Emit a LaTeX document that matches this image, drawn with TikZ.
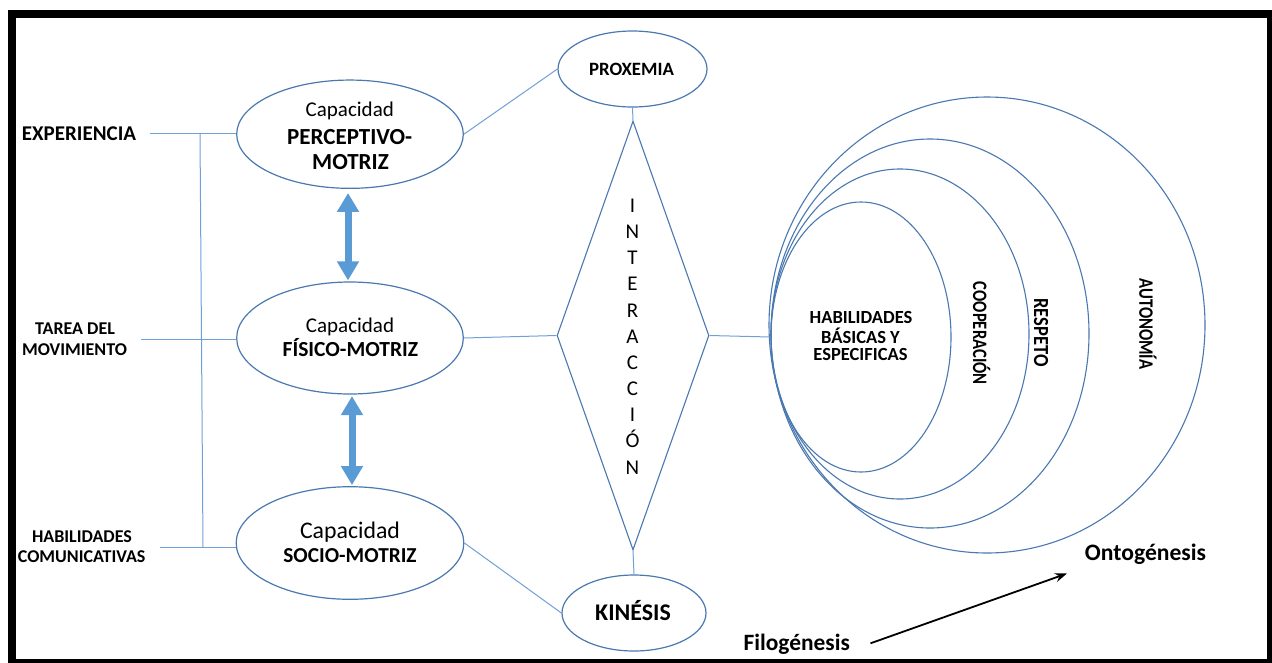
\documentclass[tikz,border=0pt]{standalone}
\usepackage{fontspec}
\setmainfont{Carlito}
\usetikzlibrary{shapes.geometric,arrows.meta}
\definecolor{ellblue}{HTML}{4A78B0}
\definecolor{connblue}{HTML}{6FA0D8}
\definecolor{arrblue}{HTML}{5B9BD5}
\newcommand\fsz[1]{\fontsize{#1}{#1}\selectfont}
\begin{document}
\begin{tikzpicture}[x=1pt,y=-1pt,
  ell/.style={draw=ellblue,line width=1.2pt,ellipse,inner sep=0pt},
  ring/.style={draw=ellblue,line width=1.1pt,ellipse,inner sep=0pt},
  conn/.style={draw=connblue,line width=1pt},
  txt/.style={inner sep=0pt,anchor=base},
  letter/.style={inner sep=0pt,anchor=base,font=\fsz{21}},
  rot/.style={inner sep=0pt,anchor=center,rotate=-90},
  bigarrow/.style={draw=arrblue,line width=7pt,
     {Triangle[width=21pt,length=19pt]}-{Triangle[width=21pt,length=19pt]}}]
\useasboundingbox (0,0) rectangle (1272,662);
\fill[white] (0,0) rectangle (1272,662);
\draw[line width=8pt] (11.5,13.8) rectangle (1271,662.5);

% left labels
\node[txt,font=\fsz{21}\bfseries] (exp) at (79,140) {EXPERIENCIA};
\node[txt,font=\fsz{18}\bfseries] (tar1) at (75,334.3) {TAREA DEL};
\node[txt,font=\fsz{18}\bfseries] (tar2) at (74.5,355) {MOVIMIENTO};
\node[txt,font=\fsz{18}\bfseries] (hab1) at (82,542.7) {HABILIDADES};
\node[txt,font=\fsz{18}\bfseries] (hab2) at (81.7,562.7) {COMUNICATIVAS};

% capacity ellipses
\node[ell,minimum width=226.6pt,minimum height=108.3pt] (e1) at (350,134.2) {};
\node[ell,minimum width=226.6pt,minimum height=112pt] (e2) at (350,338) {};
\node[ell,minimum width=227.6pt,minimum height=112.6pt] (e3) at (350,543) {};
\node[txt,font=\fsz{21}] (e1a) at (349.8,116) {Capacidad};
\node[txt,font=\fsz{23}\bfseries] (e1b) at (349.7,144) {PERCEPTIVO-};
\node[txt,font=\fsz{23}\bfseries] (e1c) at (350.5,169.3) {MOTRIZ};
\node[txt,font=\fsz{21}] (e2a) at (350,332) {Capacidad};
\node[txt,font=\fsz{21.5}\bfseries] (e2b) at (350.4,356) {FÍSICO-MOTRIZ};
\node[txt,font=\fsz{23.8}] (e3a) at (350,538.3) {Capacidad};
\node[txt,font=\fsz{21.3}\bfseries] (e3b) at (350,562.3) {SOCIO-MOTRIZ};

% proxemia / kinesis
\node[ell,minimum width=149pt,minimum height=76pt] (px) at (632.5,69) {};
\node[txt,font=\fsz{18.8}\bfseries] (pxt) at (631.5,75) {PROXEMIA};
\node[ell,minimum width=144pt,minimum height=76pt] (kin) at (634,613) {};
\node[txt,font=\fsz{23.9}\bfseries] (kint) at (633,620) {KINÉSIS};

% diamond
\node[draw=ellblue,line width=1.1pt,diamond,inner sep=0pt,aspect=0.354,
      minimum width=152pt,minimum height=429pt] (dia) at (633,335.5) {};
\foreach \ch [count=\i] in {I,N,T,E,R,A,C,C,I,Ó,N}
  \node[letter] (l\i) at (632.5,{205.7+26.16*(\i-1)+6.8}) {\ch};

% nested ellipses
\node[ring,minimum width=436pt,minimum height=456pt] (c4) at (987,325) {};
\node[ring,minimum width=318pt,minimum height=389pt] (c3) at (930,333.5) {};
\node[ring,minimum width=258pt,minimum height=330pt] (c2) at (900,334) {};
\node[ring,minimum width=180pt,minimum height=270pt] (c1) at (861,337) {};
\node[txt,font=\fsz{18.5}\bfseries] (h1) at (861,323.3) {HABILIDADES};
\node[txt,font=\fsz{18.5}\bfseries] (h2) at (860.5,343.3) {BÁSICAS Y};
\node[txt,font=\fsz{18.5}\bfseries] (h3) at (860.5,360.7) {ESPECIFICAS};
\node[rot] (coop) at (981.7,333.3) {\scalebox{0.81}[1]{\fsz{20.5}\bfseries COOPERACIÓN}};
\node[rot] (resp) at (1041,332.5) {\scalebox{0.86}[1]{\fsz{21.5}\bfseries RESPETO}};
\node[rot] (auto) at (1148,324) {\scalebox{0.81}[1]{\fsz{20.5}\bfseries AUTONOMÍA}};

% bottom right
\node[txt,font=\fsz{23.6}\bfseries] (onto) at (1145.5,560.7) {Ontogénesis};
\node[txt,font=\fsz{23.4}\bfseries] (filo) at (796.7,650.7) {Filogénesis};
\coordinate (f1) at (870.5,643.3);
\coordinate (o1) at (1067,573.5);
\draw[line width=1.8pt,-{Stealth[length=12pt,width=9pt]}] (f1) -- (o1);

% connectors
\coordinate (bt) at (200,133.3);
\coordinate (bb) at (203,547.7);
\coordinate (expl) at (150,133.3);
\coordinate (tarl) at (141,339);
\coordinate (habl) at (160,547.7);
\draw[conn] (bt) -- (bb);
\draw[conn] (expl) -- (expl -| e1.west);
\draw[conn] (tarl) -- (tarl -| e2.west);
\draw[conn] (habl) -- (habl -| e3.west);
\draw[conn] (e1.east) -- (px.west);
\draw[conn] (e2.east) -- (dia.west);
\draw[conn] (e3.east) -- (kin.west);
\draw[conn] (px.south) -- (dia.north);
\draw[conn] (dia.south) -- (kin.north);
\draw[conn] (dia.east) -- (c1.west);

% double arrows
\draw[bigarrow,shorten <=4pt,shorten >=1pt] ([xshift=-2pt]e1.south) -- ([xshift=-2pt]e2.north);
\draw[bigarrow,shorten <=1.5pt,shorten >=1pt] ([xshift=2pt]e2.south) -- ([xshift=2pt]e3.north);
\end{tikzpicture}
\end{document}
